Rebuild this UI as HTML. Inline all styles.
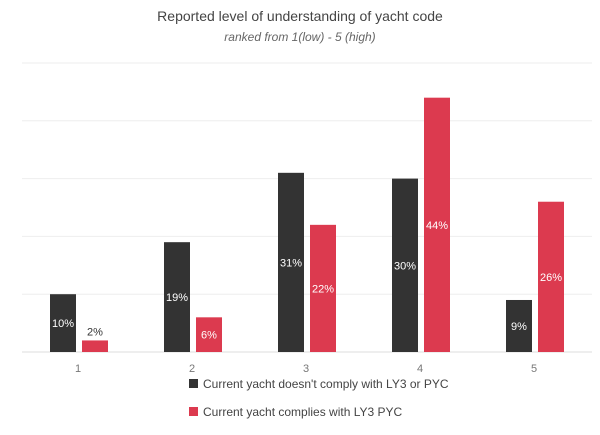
<!DOCTYPE html>
<html><head><meta charset="utf-8"><style>
body{margin:0;background:#fff;font-family:"Liberation Sans",sans-serif}
</style></head><body>
<svg id="c" width="600" height="430" xmlns="http://www.w3.org/2000/svg">
<text x="300" y="21" text-anchor="middle" font-size="14" fill="#444">Reported level of understanding of yacht code</text>
<text x="300" y="41" text-anchor="middle" font-size="12" font-style="italic" fill="#666">ranked from 1(low) - 5 (high)</text>
<g id="grid"></g><g id="bars"></g>
<g>
<rect x="189" y="379" width="9" height="9" fill="#333333"/>
<text x="203" y="388" font-size="12" fill="#444">Current yacht doesn't comply with LY3 or PYC</text>
<rect x="189" y="407" width="9" height="9" fill="#dc3a4f"/>
<text x="203" y="416" font-size="12" fill="#444">Current yacht complies with LY3 PYC</text>
</g>
</svg>
<script>
const categories=["1","2","3","4","5"];
const seriesNonComply=[10,19,31,30,9];
const seriesComply=[2,6,22,44,26];
const gridTicks=[0,10,20,30,40,50];
const NS="http://www.w3.org/2000/svg";
const y=v=>352-v*5.78;
const x=i=>79+i*114;
function mk(t,a,p){const e=document.createElementNS(NS,t);for(const k in a)e.setAttribute(k,a[k]);p.appendChild(e);return e;}
const g=document.getElementById('grid'),b=document.getElementById('bars');
gridTicks.forEach(t=>{const l=mk('line',{x1:22,x2:592,y1:y(t),y2:y(t),stroke:t?'#eeeeee':'#dddddd','stroke-width':1},g);

});
categories.forEach((c,i)=>{
 const t=mk('text',{x:x(i)-1,y:372,'text-anchor':'middle','font-size':11,fill:'#777'},g);t.textContent=c;
 
 
 [[seriesNonComply,'#333333',-29],[seriesComply,'#dc3a4f',3]].forEach(([s,col,off],k)=>{
  const v=s[i],top=y(v),h=352-top;
  const r=mk('rect',{x:x(i)+off,y:top,width:26,height:h,fill:col},b);
  
  
  const inside=h>20;
  const tx=mk('text',{x:x(i)+off+13,y:inside?top+h/2+4:top-5,'text-anchor':'middle','font-size':11,fill:inside?'#fff':'#333'},b);
  tx.textContent=v+'%';
  
  
 });
});
</script>
</body></html>
